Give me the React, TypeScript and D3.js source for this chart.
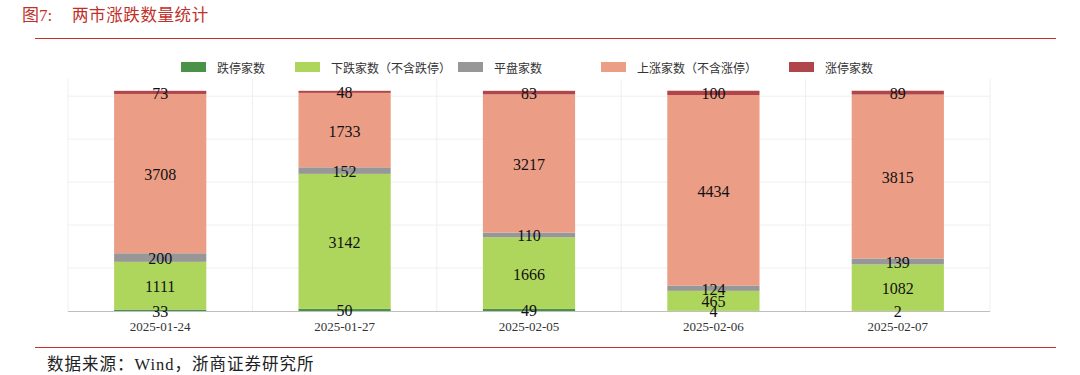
import React from 'react';
import * as d3 from 'd3';

// Dates on the x axis
const dates = ['2025-01-24', '2025-01-27', '2025-02-05', '2025-02-06', '2025-02-07'];

// Series, bottom to top
const limitDown = [33, 50, 49, 4, 2];
const fallExLimit = [1111, 3142, 1666, 465, 1082];
const flat = [200, 152, 110, 124, 139];
const riseExLimit = [3708, 1733, 3217, 4434, 3815];
const limitUp = [73, 48, 83, 100, 89];

const seriesNames = ['跌停家数', '下跌家数（不含跌停）', '平盘家数', '上涨家数（不含涨停）', '涨停家数'];
const seriesColors = ['#4a9247', '#aed65c', '#979797', '#eb9d86', '#b0464a'];
const gridTicks = [1000, 2000, 3000, 4000, 5000];

const W = 1080;
const H = 375;
const margin = { left: 68, right: 90, top: 79, bottom: 64 };

const App: React.FC = () => {
  const seriesValues = [limitDown, fallExLimit, flat, riseExLimit, limitUp];
  const rows = dates.map((d, i) => {
    const r: Record<string, number | string> = { date: d };
    seriesNames.forEach((n, k) => (r[n] = seriesValues[k][i]));
    return r;
  });
  const stacked = d3.stack<Record<string, number | string>>().keys(seriesNames)(rows as any);

  const x = d3.scaleBand().domain(dates).range([margin.left, W - margin.right]).paddingInner(0.5).paddingOuter(0.25);
  const y = d3.scaleLinear().domain([0, 5400]).range([H - margin.bottom, margin.top]);
  const bandStep = x.step();
  const gridX = d3.range(dates.length + 1).map(i => margin.left + i * bandStep);

  // legend layout
  const legendX = [181, 295, 458, 601, 789];

  return (
    <svg width={W} height={H} style={{ position: 'absolute', left: 0, top: 0, background: '#fff' }}>
      {/* title */}
      <text x={22} y={21} fill="#c0302b" fontSize={17} fontFamily="'Liberation Serif', 'Noto Sans CJK SC', serif">
        图7:
        <tspan x={72} fontFamily="'Noto Sans CJK SC', sans-serif" fontSize={16.5} letterSpacing={0.6}>两市涨跌数量统计</tspan>
      </text>
      <line x1={35} x2={1056} y1={38.5} y2={38.5} stroke="#c9302c" strokeWidth={1.2} />

      {/* legend */}
      {seriesNames.map((n, k) => (
        <g key={n} transform={`translate(${legendX[k]},67)`}>
          <rect x={0} y={-5} width={25} height={10} fill={seriesColors[k]} />
          <text x={36} y={0} dominantBaseline="central" fontSize={12} fill="#333" fontFamily="'Noto Sans CJK SC', sans-serif">{n}</text>
        </g>
      ))}

      {/* grid */}
      {gridTicks.map(t => (
        <line key={t} x1={margin.left} x2={W - margin.right} y1={y(t)} y2={y(t)} stroke="#efefef" />
      ))}
      {gridX.map((gx, i) => (
        <line key={i} x1={gx} x2={gx} y1={margin.top} y2={y(0)} stroke="#efefef" />
      ))}

      {/* bars */}
      {stacked.map((s, k) => (
        <g key={s.key} fill={seriesColors[k]}>
          {s.map((d, i) => (
            <rect key={i} x={x(dates[i])} width={x.bandwidth()} y={y(d[1])} height={y(d[0]) - y(d[1])} />
          ))}
        </g>
      ))}

      {/* axis line */}
      <line x1={margin.left} x2={W - margin.right} y1={y(0) + 0.5} y2={y(0) + 0.5} stroke="#bfbfbf" />

      {/* data labels */}
      {stacked.map((s, k) =>
        s.map((d, i) => (
          <text key={`${k}-${i}`} x={x(dates[i])! + x.bandwidth() / 2} y={(y(d[0]) + y(d[1])) / 2 + 1} textAnchor="middle" dominantBaseline="central" fontSize={16} fill="#111" fontFamily="'Liberation Serif', serif">
            {seriesValues[k][i]}
          </text>
        ))
      )}

      {/* x labels */}
      {dates.map(d => (
        <text key={d} x={x(d)! + x.bandwidth() / 2} y={326} textAnchor="middle" dominantBaseline="central" fontSize={13} fill="#333" fontFamily="'Liberation Serif', serif">
          {d}
        </text>
      ))}

      {/* source */}
      <line x1={35} x2={1056} y1={347.5} y2={347.5} stroke="#c9302c" strokeWidth={1.2} />
      <text x={47} y={364} dominantBaseline="central" fontSize={16.5} fill="#222" letterSpacing={1} fontFamily="'Liberation Serif', 'Noto Sans CJK SC', serif">
        数据来源：Wind，浙商证券研究所
      </text>
    </svg>
  );
};

export default App;
